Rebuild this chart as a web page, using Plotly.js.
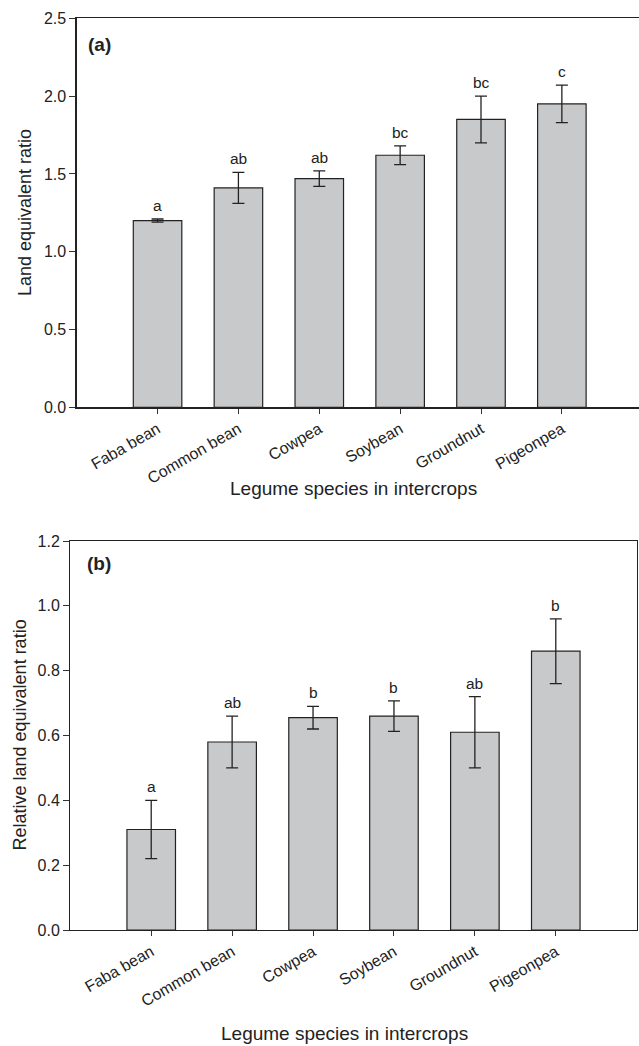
<!DOCTYPE html>
<html>
<head>
<meta charset="utf-8">
<script src="https://cdn.plot.ly/plotly-3.0.1.min.js"></script>
<style>html,body{margin:0;padding:0;background:#fff;}#chart{width:639px;height:1046px;}</style>
</head>
<body>
<div id="chart"></div>
<script>
const categories = ["Faba bean", "Common bean", "Cowpea", "Soybean", "Groundnut", "Pigeonpea"];
const lerValues = [1.20, 1.41, 1.47, 1.62, 1.85, 1.95];
const lerErrors = [0.01, 0.10, 0.05, 0.06, 0.15, 0.12];
const lerLetters = ["a", "ab", "ab", "bc", "bc", "c"];
const rlerValues = [0.31, 0.58, 0.655, 0.66, 0.61, 0.86];
const rlerErrors = [0.09, 0.08, 0.035, 0.047, 0.11, 0.10];
const rlerLetters = ["a", "ab", "b", "b", "ab", "b"];
const yTicksA = [0, 0.5, 1.0, 1.5, 2.0, 2.5];
const yTicksB = [0, 0.2, 0.4, 0.6, 0.8, 1.0, 1.2];

const W = 639, H = 1046;
const FONT = "Liberation Sans, Arial, Helvetica, sans-serif";
const TXT = "#222";
const BAR_FILL = "#c8c9cb";
const LINE = "#222";

function barTrace(vals, errs, xa, ya) {
  return {
    type: "bar", x: categories, y: vals, xaxis: xa, yaxis: ya, width: 0.6,
    marker: {color: BAR_FILL, line: {color: LINE, width: 1.2}},
    error_y: {type: "data", array: errs, visible: true, color: LINE, thickness: 1.3, width: 6},
    hoverinfo: "skip", showlegend: false
  };
}

const data = [
  barTrace(lerValues, lerErrors, "x", "y"),
  barTrace(rlerValues, rlerErrors, "x2", "y2")
];

const ann = [];
categories.forEach((c, i) => {
  ann.push({xref: "x", yref: "y", x: c, y: lerValues[i] + lerErrors[i], text: lerLetters[i],
    showarrow: false, yanchor: "bottom", yshift: 3, font: {family: FONT, size: 15.5, color: TXT}});
  ann.push({xref: "x2", yref: "y2", x: c, y: rlerValues[i] + rlerErrors[i], text: rlerLetters[i],
    showarrow: false, yanchor: "bottom", yshift: 3, font: {family: FONT, size: 15.5, color: TXT}});
});
// panel labels
ann.push({xref: "paper", yref: "paper", x: 86 / W, y: 1 - 45 / H, xanchor: "left", yanchor: "middle",
  text: "<b>(a)</b>", showarrow: false, font: {family: FONT, size: 19, color: TXT}});
ann.push({xref: "paper", yref: "paper", x: 85 / W, y: 1 - 563 / H, xanchor: "left", yanchor: "middle",
  text: "<b>(b)</b>", showarrow: false, font: {family: FONT, size: 19, color: TXT}});
// axis titles
ann.push({xref: "paper", yref: "paper", x: 353 / W, y: 1 - 488 / H, xanchor: "center", yanchor: "middle",
  text: "Legume species in intercrops", showarrow: false, font: {family: FONT, size: 19, color: TXT}});
ann.push({xref: "paper", yref: "paper", x: 344 / W, y: 1 - 1033 / H, xanchor: "center", yanchor: "middle",
  text: "Legume species in intercrops", showarrow: false, font: {family: FONT, size: 19, color: TXT}});
ann.push({xref: "paper", yref: "paper", x: 25 / W, y: 1 - 213 / H, xanchor: "center", yanchor: "middle",
  textangle: -90, text: "Land equivalent ratio", showarrow: false, font: {family: FONT, size: 18, color: TXT}});
ann.push({xref: "paper", yref: "paper", x: 19.5 / W, y: 1 - 735 / H, xanchor: "center", yanchor: "middle",
  textangle: -90, text: "Relative land equivalent ratio", showarrow: false, font: {family: FONT, size: 18, color: TXT}});

const tickFont = {family: FONT, size: 16, color: TXT};
function xAxis(dom, rng, anchor) {
  return {domain: dom, range: rng, anchor: anchor, type: "category", showline: true, linecolor: LINE, linewidth: 1.3,
    mirror: true, ticks: "outside", ticklen: 5, tickwidth: 1, tickcolor: "#333", tickangle: -30,
    tickfont: tickFont, showgrid: false, zeroline: false, automargin: false, fixedrange: true};
}
function yAxis(dom, rng, vals, mirror, anchor) {
  return {domain: dom, range: rng, anchor: anchor, tickvals: vals, ticktext: vals.map(v => v.toFixed(1)),
    showline: true, linecolor: LINE, linewidth: 1.3, mirror: mirror, ticks: "outside", ticklen: 6, tickwidth: 1,
    tickcolor: "#333", tickfont: tickFont, showgrid: false, zeroline: false, automargin: false, fixedrange: true};
}

const layout = {
  width: W, height: H,
  margin: {l: 0, r: 0, t: 0, b: 0, pad: 0},
  paper_bgcolor: "#fff", plot_bgcolor: "#fff",
  showlegend: false, bargap: 0.4,
  font: {family: FONT, color: TXT},
  xaxis: xAxis([76.7 / W, 1], [-1, (W - 76.7) / 80.86 - 1], "y"),
  yaxis: yAxis([1 - 407.3 / H, 1 - 18.3 / H], [0, 2.5], yTicksA, false, "x"),
  xaxis2: xAxis([70.3 / W, 636.7 / W], [-1, 6], "y2"),
  yaxis2: yAxis([1 - 930 / H, 1 - 541 / H], [0, 1.2], yTicksB, true, "x2"),
  annotations: ann
};

Plotly.newPlot("chart", data, layout, {staticPlot: true, displayModeBar: false});
</script>
</body>
</html>
